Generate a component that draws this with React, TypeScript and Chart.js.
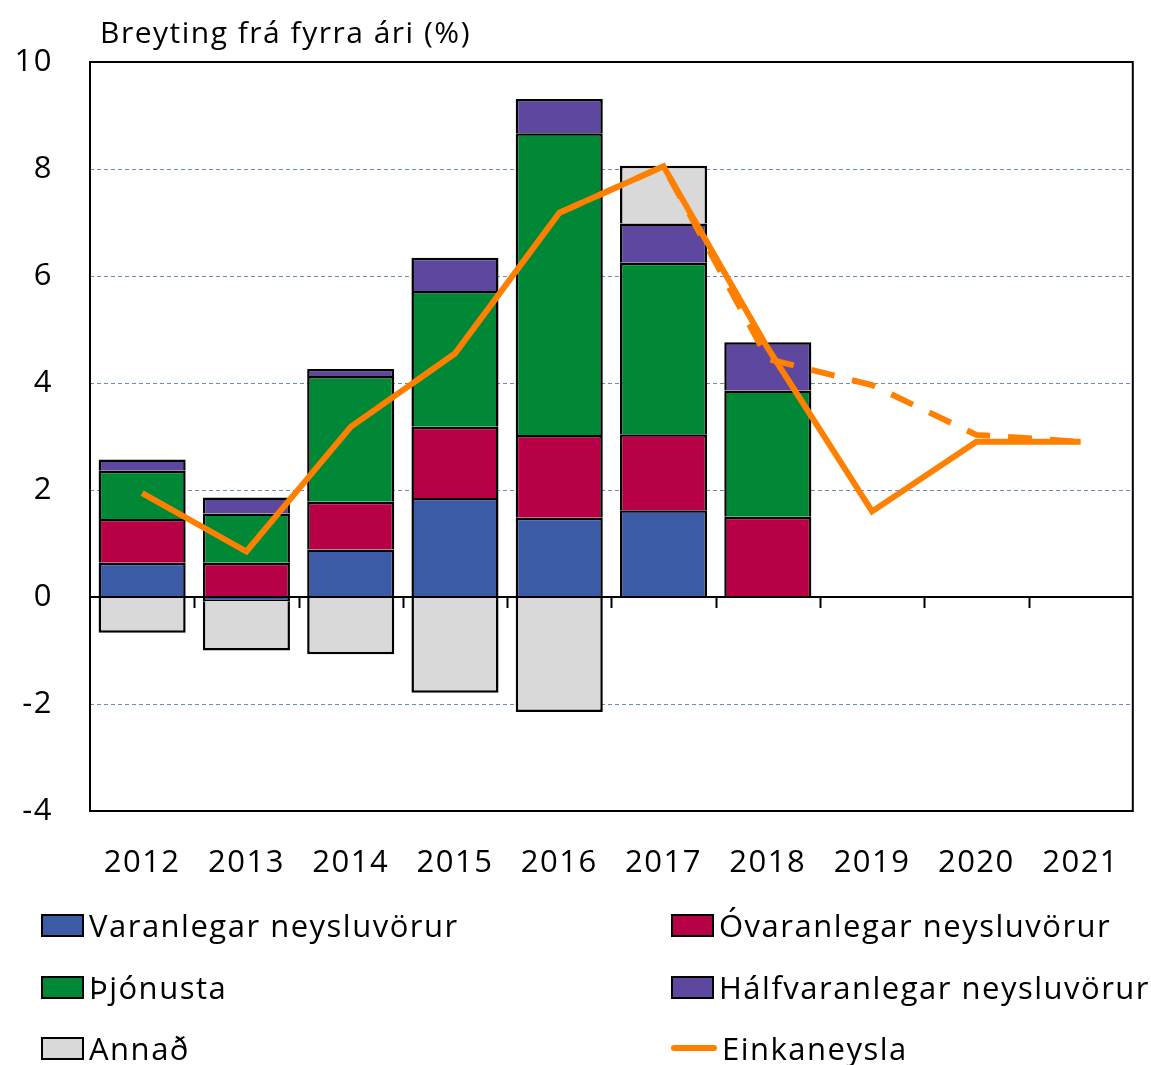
import React, { useEffect, useRef } from "react";
import { Chart, registerables } from "chart.js";

Chart.register(...registerables);

const years = ["2012", "2013", "2014", "2015", "2016", "2017", "2018", "2019", "2020", "2021"];
const varanlegar = [0.64, -0.08, 0.89, 1.85, 1.48, 1.62, null, null, null, null];
const ovaranlegar = [0.82, 0.64, 0.89, 1.33, 1.55, 1.42, 1.5, null, null, null];
const thjonusta = [0.9, 0.92, 2.35, 2.54, 5.64, 3.21, 2.36, null, null, null];
const halfvaranlegar = [0.21, 0.3, 0.13, 0.62, 0.64, 0.73, 0.9, null, null, null];
const annad = [-0.67, -0.92, -1.07, -1.79, -2.15, 1.08, null, null, null, null];
const einkaneysla = [1.94, 0.85, 3.18, 4.55, 7.18, 8.05, 4.65, 1.6, 2.9, 2.9];
const einkaneyslaSpa = [null, null, null, null, 7.18, 8.05, 4.45, 3.96, 3.03, 2.9];
const yTicks = [-4, -2, 0, 2, 4, 6, 8, 10];

const FONT = "'Open Sans', 'Noto Sans', sans-serif";
const C_BLUE = "#3B5BA7";
const C_RED = "#B80046";
const C_GREEN = "#008836";
const C_PURPLE = "#5E479E";
const C_GRAY = "#D9D9D9";
const C_ORANGE = "#FF8000";

const W = 1151;
const H = 1065;

const spacingPlugin = {
  id: "spacing",
  beforeDraw(chart: any) {
    try {
      chart.ctx.letterSpacing = "1.5px";
    } catch (e) {
      /* ignore */
    }
  },
};

const framePlugin = {
  id: "frame",
  afterDatasetsDraw(chart: any) {
    const { ctx, chartArea, scales } = chart;
    const x = scales.x;
    const y = scales.y;
    const y0 = y.getPixelForValue(0);
    ctx.save();
    ctx.strokeStyle = "#000";
    ctx.lineWidth = 2;
    ctx.beginPath();
    ctx.moveTo(chartArea.left, y0);
    ctx.lineTo(chartArea.right, y0);
    const step = x.getPixelForValue(1) - x.getPixelForValue(0);
    for (let i = 1; i < years.length; i++) {
      const px = Math.round(x.getPixelForValue(i) - step / 2) + 0.5;
      ctx.moveTo(px, y0);
      ctx.lineTo(px, y0 + 11);
    }
    ctx.stroke();
    ctx.strokeRect(chartArea.left, chartArea.top, chartArea.right - chartArea.left, chartArea.bottom - chartArea.top);
    ctx.restore();
  },
};

function barDs(label: string, data: (number | null)[], color: string) {
  return {
    type: "bar" as const,
    label,
    data,
    backgroundColor: color,
    borderColor: "#000",
    borderWidth: 2.5,
    borderSkipped: "start",
    stack: "bars",
    order: 1,
    categoryPercentage: 1,
    barPercentage: 0.835,
  };
}

const legendItems = [
  { label: "Varanlegar neysluvörur", color: C_BLUE, col: 0, row: 0, line: false },
  { label: "Óvaranlegar neysluvörur", color: C_RED, col: 1, row: 0, line: false },
  { label: "Þjónusta", color: C_GREEN, col: 0, row: 1, line: false },
  { label: "Hálfvaranlegar neysluvörur", color: C_PURPLE, col: 1, row: 1, line: false },
  { label: "Annað", color: C_GRAY, col: 0, row: 2, line: false },
  { label: "Einkaneysla", color: C_ORANGE, col: 1, row: 2, line: true },
];

export default function App() {
  const ref = useRef<HTMLCanvasElement | null>(null);

  useEffect(() => {
    document.body.style.margin = "0";
    const canvas = ref.current;
    if (!canvas) return;
    const font = { family: FONT, size: 31 };
    const chart = new Chart(canvas, {
      type: "bar",
      data: {
        labels: years,
        datasets: [
          barDs("Varanlegar neysluvörur", varanlegar, C_BLUE),
          barDs("Óvaranlegar neysluvörur", ovaranlegar, C_RED),
          barDs("Þjónusta", thjonusta, C_GREEN),
          barDs("Hálfvaranlegar neysluvörur", halfvaranlegar, C_PURPLE),
          barDs("Annað", annad, C_GRAY),
          {
            type: "line" as const,
            label: "Einkaneysla spá",
            data: einkaneyslaSpa,
            borderColor: C_ORANGE,
            borderWidth: 6,
            borderDash: [24, 18],
            pointRadius: 0,
            fill: false,
            tension: 0,
            stack: "spa",
            order: 0,
          },
          {
            type: "line" as const,
            label: "Einkaneysla",
            data: einkaneysla,
            borderColor: C_ORANGE,
            borderWidth: 6,
            pointRadius: 0,
            fill: false,
            tension: 0,
            stack: "solid",
            order: 0,
          },
        ] as any,
      },
      options: {
        animation: false,
        responsive: false,
        maintainAspectRatio: false,
        layout: { padding: { top: 62, right: 18, left: 0, bottom: 0 } },
        plugins: { legend: { display: false }, tooltip: { enabled: false } },
        scales: {
          x: {
            stacked: true,
            grid: { display: false, drawTicks: false },
            border: { display: false },
            ticks: { font, color: "#000", padding: 34, maxRotation: 0, autoSkip: false },
            afterFit: (s: any) => {
              s.height = H - 811;
            },
          },
          y: {
            stacked: true,
            min: -4,
            max: 10,
            afterBuildTicks: (s: any) => {
              s.ticks = yTicks.map((v) => ({ value: v }));
            },
            ticks: { font, color: "#000", padding: 37 },
            grid: {
              drawTicks: false,
              lineWidth: 1,
              color: (c: any) =>
                c.tick && (c.tick.value === 0 || c.tick.value === 10 || c.tick.value === -4)
                  ? "rgba(0,0,0,0)"
                  : "#6F8CB8",
            },
            border: { display: false, dash: [4, 3] },
            afterFit: (s: any) => {
              s.width = 90;
            },
          },
        } as any,
      },
      plugins: [spacingPlugin, framePlugin],
    });
    return () => chart.destroy();
  }, []);

  const colLeft = [41, 671];
  const rowCenter = [925, 987, 1048];

  return (
    <div style={{ position: "relative", width: W, height: H, background: "#fff", overflow: "hidden" }}>
      <canvas ref={ref} width={W} height={H} style={{ position: "absolute", left: 0, top: 0, width: W, height: H }} />
      <div
        style={{
          position: "absolute",
          left: 100,
          top: 12,
          height: 40,
          lineHeight: "40px",
          fontFamily: FONT,
          fontSize: 30,
          letterSpacing: "1.5px",
          color: "#000",
          whiteSpace: "nowrap",
        }}
      >
        Breyting frá fyrra ári (%)
      </div>
      {legendItems.map((it) => (
        <div
          key={it.label}
          style={{
            position: "absolute",
            left: colLeft[it.col],
            top: rowCenter[it.row] - 22,
            height: 44,
            display: "flex",
            alignItems: "center",
            fontFamily: FONT,
            fontSize: 31,
            letterSpacing: "1.5px",
            color: "#000",
            whiteSpace: "nowrap",
          }}
        >
          {it.line ? (
            <span style={{ display: "inline-block", width: 46, height: 6, background: it.color, borderRadius: 3, marginRight: 5 }} />
          ) : (
            <span
              style={{
                display: "inline-block",
                width: 39,
                height: 19,
                background: it.color,
                border: "2px solid #000",
                marginRight: 5,
              }}
            />
          )}
          <span>{it.label}</span>
        </div>
      ))}
    </div>
  );
}
